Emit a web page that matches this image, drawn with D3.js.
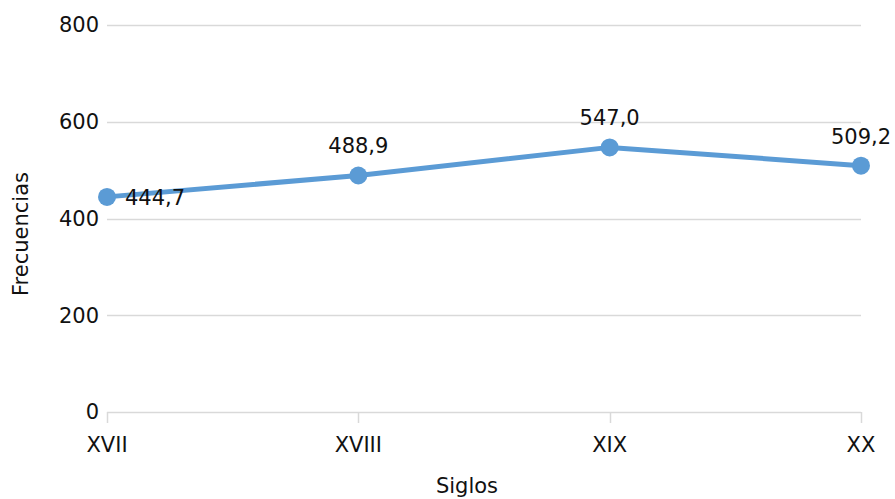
<!DOCTYPE html>
<html>
<head>
<meta charset="utf-8">
<script src="https://cdn.jsdelivr.net/npm/d3@7"></script>
<style>
  body { margin: 0; background: #fff; }
  svg { display: block; }
</style>
</head>
<body>
<div id="chart"></div>
<script>
// data
var siglos = ["XVII", "XVIII", "XIX", "XX"];
var frecuencias = [444.7, 488.9, 547.0, 509.2];
var yTicks = [0, 200, 400, 600, 800];

var W = 895, H = 499;
var margin = {top: 25, right: 34, bottom: 87, left: 107},
    width = W - margin.left - margin.right,
    height = H - margin.top - margin.bottom;

var font = "'DejaVu Sans', sans-serif";
var fsize = "21px";
var tcol = "#111";

var svg = d3.select("#chart")
  .append("svg")
    .attr("width", W)
    .attr("height", H)
  .append("g")
    .attr("transform", "translate(" + margin.left + "," + margin.top + ")");

var x = d3.scalePoint()
  .domain(siglos)
  .range([0, width]);

var y = d3.scaleLinear()
  .domain([0, 800])
  .range([height, 0]);

// gridlines
svg.selectAll(".grid")
  .data(yTicks)
  .enter()
  .append("line")
    .attr("x1", 0)
    .attr("x2", width)
    .attr("y1", function(d) { return Math.round(y(d)) + 0.5; })
    .attr("y2", function(d) { return Math.round(y(d)) + 0.5; })
    .attr("stroke", "#d9d9d9")
    .attr("stroke-width", 1.5);

// y tick labels
svg.selectAll(".ylab")
  .data(yTicks)
  .enter()
  .append("text")
    .attr("x", -8)
    .attr("y", function(d) { return y(d); })
    .attr("dy", "0.35em")
    .attr("text-anchor", "end")
    .style("font-family", font)
    .style("font-size", fsize)
    .attr("fill", tcol)
    .text(function(d) { return d; });

// x axis ticks
svg.selectAll(".xtick")
  .data(siglos)
  .enter()
  .append("line")
    .attr("x1", function(d) { return Math.round(x(d)) + 0.5; })
    .attr("x2", function(d) { return Math.round(x(d)) + 0.5; })
    .attr("y1", height)
    .attr("y2", height + 11)
    .attr("stroke", "#d9d9d9")
    .attr("stroke-width", 1.5);

svg.selectAll(".xlab")
  .data(siglos)
  .enter()
  .append("text")
    .attr("x", function(d) { return x(d); })
    .attr("y", height + 40)
    .attr("text-anchor", "middle")
    .style("font-family", font)
    .style("font-size", fsize)
    .attr("fill", tcol)
    .text(function(d) { return d; });

// axis titles
svg.append("text")
  .attr("x", width / 2 - 17)
  .attr("y", height + 81)
  .attr("text-anchor", "middle")
  .style("font-family", font)
  .style("font-size", fsize)
  .attr("fill", tcol)
  .text("Siglos");

svg.append("text")
  .attr("transform", "rotate(-90)")
  .attr("x", -(234 - margin.top))
  .attr("y", -margin.left + 28)
  .attr("text-anchor", "middle")
  .style("font-family", font)
  .style("font-size", fsize)
  .attr("fill", tcol)
  .text("Frecuencias");

// line
var data = siglos.map(function(s, i) { return {name: s, value: frecuencias[i]}; });

svg.append("path")
  .datum(data)
  .attr("fill", "none")
  .attr("stroke", "#5b9bd5")
  .attr("stroke-width", 5)
  .attr("stroke-linejoin", "round")
  .attr("d", d3.line()
    .x(function(d) { return x(d.name); })
    .y(function(d) { return y(d.value); }));

svg.selectAll(".dot")
  .data(data)
  .enter()
  .append("circle")
    .attr("cx", function(d) { return x(d.name); })
    .attr("cy", function(d) { return y(d.value); })
    .attr("r", 9)
    .attr("fill", "#5b9bd5");

// value labels
svg.selectAll(".vlab")
  .data(data)
  .enter()
  .append("text")
    .attr("x", function(d, i) { return i === 0 ? x(d.name) + 18 : x(d.name); })
    .attr("y", function(d, i) { return i === 0 ? y(d.value) + 8 : y(d.value) - 22; })
    .attr("text-anchor", function(d, i) { return i === 0 ? "start" : "middle"; })
    .style("font-family", font)
    .style("font-size", fsize)
    .attr("fill", tcol)
    .text(function(d) { return d.value.toFixed(1).replace(".", ","); });
</script>
</body>
</html>
